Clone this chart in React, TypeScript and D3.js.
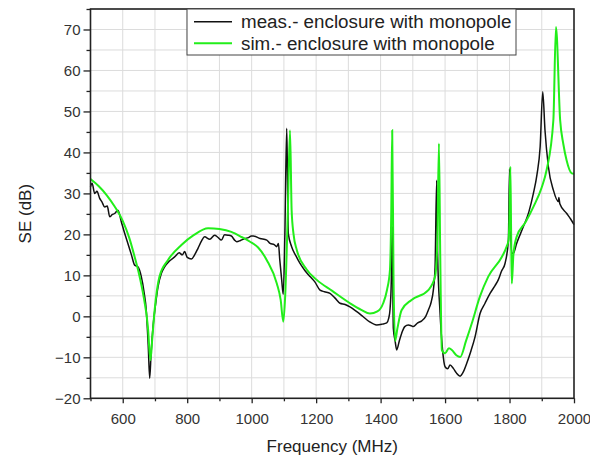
import React, {useEffect, useRef} from 'react';
import * as d3 from 'd3';

// measured curve (MHz, dB)
const measFreq = [500, 505, 513, 520, 528.5, 535, 544, 552, 559.6, 567, 575, 585, 595.6, 605, 616, 627, 637, 647, 657.6, 666, 673, 679, 683.7, 688, 694, 702, 709.4, 720, 730, 745, 761, 775, 785, 792, 800, 813, 823, 833.5, 845, 854, 870, 885, 895, 906, 916, 926.6, 937, 947, 953.6, 965, 978, 990, 999, 1005, 1026, 1047, 1057, 1070, 1077.7, 1083, 1087, 1093, 1098, 1103, 1108.7, 1111, 1113.7, 1124, 1137, 1150, 1165, 1181, 1196, 1212, 1226, 1243, 1258, 1274, 1290, 1305, 1325, 1346, 1365, 1388, 1405, 1419, 1425, 1429, 1433, 1436, 1439.5, 1445, 1450, 1458, 1465.5, 1475, 1486, 1495, 1501.5, 1515, 1527.6, 1540, 1548, 1557, 1563.6, 1569, 1574, 1577, 1584, 1592, 1600, 1608, 1615.5, 1625.7, 1635, 1646.5, 1657, 1667, 1680, 1693, 1708.5, 1724, 1739.6, 1755, 1765, 1775, 1786, 1796.5, 1800, 1803, 1807, 1812, 1822, 1843, 1860, 1874, 1885, 1895, 1903, 1910, 1920.5, 1936, 1951.5, 1953, 1956, 1977.5, 1990, 2000]
const measSE = [31.6, 32.5, 30, 30.5, 28.8, 28, 26.7, 26.9, 24.3, 24.8, 25.1, 25.9, 23.1, 20.5, 17.8, 15, 12.5, 12.1, 9.7, 6, 1.5, -7, -15.1, -9, -2.5, 3, 7.2, 10.5, 12.1, 13.5, 14.5, 15.5, 15, 15.8, 14.4, 14, 15, 16.6, 18.5, 19.4, 18.8, 19.8, 19.3, 18.6, 19.9, 19.8, 19.6, 18.6, 18.2, 18.5, 19, 19.2, 19.6, 19.6, 19, 18.6, 17.8, 17.5, 17, 17.8, 14, 9, 5.4, 20, 45.9, 35, 20.2, 17, 14.8, 12.9, 11.2, 9.7, 8.4, 6.4, 6, 5.6, 4.5, 3.2, 2.9, 2.3, 1.2, -0.1, -1.3, -2.1, -1.9, -1.6, -0.5, 1.5, 8, 22, -2.9, -6, -8.2, -6, -4.1, -2.5, -2.1, -2.3, -2.5, -1.6, -1.1, 0, 1.5, 3.5, 6.4, 12, 33.2, 15, 1.5, -8, -12.3, -12.8, -11.9, -12.7, -13.8, -14.6, -13.5, -11.5, -8.5, -5, 0.7, 3.2, 5.6, 7.5, 8.9, 11, 12.9, 18.6, 36, 22, 15.4, 15.4, 17.8, 21.9, 25.5, 30, 34.5, 41.4, 54.8, 45.4, 36.5, 30.8, 28, 29, 27.5, 25.1, 23.7, 22.4]

// simulated curve (MHz, dB)
const simFreq = [500, 525, 550, 575, 600, 620, 637, 650, 663, 678, 686, 692, 699, 714, 740, 782, 820, 865, 900, 937, 970, 995, 1020, 1047, 1078, 1090, 1098, 1104, 1112, 1119, 1124, 1130, 1140, 1170, 1202, 1250, 1305, 1340, 1367, 1390, 1408, 1420, 1429, 1433, 1436, 1440, 1445, 1452, 1465, 1496, 1548, 1569, 1576, 1581, 1585, 1590, 1600, 1612, 1621, 1635, 1647, 1665, 1683, 1708, 1734, 1776, 1791, 1797, 1800, 1802.5, 1805, 1807, 1812, 1822, 1850, 1874, 1900, 1915, 1936, 1944, 1957, 1967, 1977, 1993, 2000]
const simSE = [33.5, 31.8, 29.6, 26.8, 23.3, 19.2, 14.5, 10.5, 5.6, -2.5, -10.7, -5, 1.5, 9.7, 13.7, 17.4, 19.8, 21.5, 21.3, 20.6, 19.3, 18.2, 16.8, 13.7, 8, 4, -1.3, 5, 25, 45.4, 25.9, 20, 16.2, 11.5, 8.9, 6.2, 3.2, 1.6, 0.7, 1.2, 3.2, 6.5, 11.3, 25, 45.4, 10, -6, -3, 1.5, 4, 6.4, 9.7, 18, 42.2, 15, -8.2, -9, -7.8, -8.2, -9.5, -9.9, -6, -1.7, 4.8, 9.7, 14.5, 17, 18.6, 25, 36.5, 20, 8, 15, 19.4, 23, 26.7, 31.5, 35.7, 47.9, 70.6, 47.9, 42, 38.1, 34.9, 34.8]

const xMajor = [600, 800, 1000, 1200, 1400, 1600, 1800, 2000]
const yMajor = [-20, -10, 0, 10, 20, 30, 40, 50, 60, 70]
const legendLabels = ['meas.- enclosure with monopole', 'sim.- enclosure with monopole']

const font = "'Liberation Sans', Arial, sans-serif"

const App = () => {

    const svgRef = useRef<SVGSVGElement>(null);

    const dimensions = {
        width: 590,
        height: 460,
        left: 90.5,
        right: 574,
        top: 9,
        bottom: 398.3
    }

    useEffect(() => {

        const svg = d3.select(svgRef.current)
        svg.selectAll('*').remove()

        const xScale = d3.scaleLinear()
            .domain([500, 2000])
            .range([dimensions.left, dimensions.right])

        const yScale = d3.scaleLinear()
            .domain([-20, 75])
            .range([dimensions.bottom, dimensions.top])

        const xAll = d3.range(500, 2001, 100)
        const yAll = d3.range(-20, 76, 5)

        // grid
        const grid = svg.append('g')
        grid.selectAll('.vg')
            .data(xAll.filter(d => d > 500 && d < 2000))
            .join('line')
            .attr('x1', d => xScale(d)).attr('x2', d => xScale(d))
            .attr('y1', dimensions.top).attr('y2', dimensions.bottom)
            .attr('stroke', '#dcdcdc').attr('stroke-width', 1)
        grid.selectAll('.hg')
            .data(yAll.filter(d => d > -20))
            .join('line')
            .attr('x1', dimensions.left).attr('x2', dimensions.right)
            .attr('y1', d => yScale(d)).attr('y2', d => yScale(d))
            .attr('stroke', '#dcdcdc').attr('stroke-width', 1)

        // minor ticks
        svg.append('g')
            .attr('transform', `translate(0, ${dimensions.bottom})`)
            .call(d3.axisBottom(xScale).tickValues(xAll.filter(d => !xMajor.includes(d))).tickSize(3).tickFormat(() => ''))
            .call(g => g.select('.domain').remove())
            .call(g => g.selectAll('line').attr('stroke', '#222').attr('stroke-width', 1.3))
        svg.append('g')
            .attr('transform', `translate(${dimensions.left}, 0)`)
            .call(d3.axisLeft(yScale).tickValues(yAll.filter(d => !yMajor.includes(d))).tickSize(4).tickFormat(() => ''))
            .call(g => g.select('.domain').remove())
            .call(g => g.selectAll('line').attr('stroke', '#222').attr('stroke-width', 1.3))

        // major axes
        svg.append('g')
            .attr('transform', `translate(0, ${dimensions.bottom})`)
            .call(d3.axisBottom(xScale).tickValues(xMajor).tickSize(5).tickPadding(10).tickFormat(d3.format('d')))
            .call(g => g.select('.domain').remove())
            .call(g => g.selectAll('line').attr('stroke', '#222').attr('stroke-width', 1.3))
            .call(g => g.selectAll('text').attr('fill', '#333').style('font-size', '15px').style('font-family', font))
        svg.append('g')
            .attr('transform', `translate(${dimensions.left}, 0)`)
            .call(d3.axisLeft(yScale).tickValues(yMajor).tickSize(7).tickPadding(3).tickFormat(d3.format('d')))
            .call(g => g.select('.domain').remove())
            .call(g => g.selectAll('line').attr('stroke', '#222').attr('stroke-width', 1.3))
            .call(g => g.selectAll('text').attr('fill', '#333').style('font-size', '15px').style('font-family', font))

        // curves
        const line = d3.line<[number, number]>()
            .x(d => xScale(d[0]))
            .y(d => yScale(d[1]))
            .curve(d3.curveMonotoneX)

        const plot = svg.append('g')
        plot.append('path')
            .attr('d', line(measFreq.map((f, i) => [f, measSE[i]])))
            .attr('fill', 'none').attr('stroke', '#111').attr('stroke-width', 1.5)
        plot.append('path')
            .attr('d', line(simFreq.map((f, i) => [f, simSE[i]])))
            .attr('fill', 'none').attr('stroke', '#22ee1a').attr('stroke-width', 2)

        // frame
        svg.append('rect')
            .attr('x', dimensions.left).attr('y', dimensions.top)
            .attr('width', dimensions.right - dimensions.left)
            .attr('height', dimensions.bottom - dimensions.top)
            .attr('fill', 'none').attr('stroke', '#222').attr('stroke-width', 1.6)

        // legend
        const legend = svg.append('g')
        legend.append('rect')
            .attr('x', 187).attr('y', dimensions.top)
            .attr('width', 329).attr('height', 46)
            .attr('fill', 'white').attr('stroke', '#444').attr('stroke-width', 1)
        const colors = ['#111', '#22ee1a']
        legendLabels.forEach((label, i) => {
            const ly = 21.7 + i * 21.5
            legend.append('line')
                .attr('x1', 194).attr('x2', 232).attr('y1', ly).attr('y2', ly)
                .attr('stroke', colors[i]).attr('stroke-width', i === 0 ? 1.5 : 2)
            legend.append('text')
                .attr('x', 241).attr('y', ly)
                .attr('dominant-baseline', 'central')
                .attr('fill', '#222')
                .style('font-size', '18.8px').style('font-family', font)
                .text(label)
        })

        // axis titles
        svg.append('text')
            .attr('x', (dimensions.left + dimensions.right) / 2).attr('y', 452)
            .attr('text-anchor', 'middle')
            .attr('fill', '#222')
            .style('font-size', '17px').style('font-family', font)
            .text('Frequency (MHz)')
        svg.append('text')
            .attr('transform', `translate(31, ${(dimensions.top + dimensions.bottom) / 2 + 10}) rotate(-90)`)
            .attr('text-anchor', 'middle')
            .attr('fill', '#222')
            .style('font-size', '17px').style('font-family', font)
            .text('SE (dB)')

    }, [])

    return (
        <svg ref={svgRef} width={590} height={460}
            style={{position: 'absolute', left: 0, top: 0, background: 'white'}} />
    );
}

export default App;
